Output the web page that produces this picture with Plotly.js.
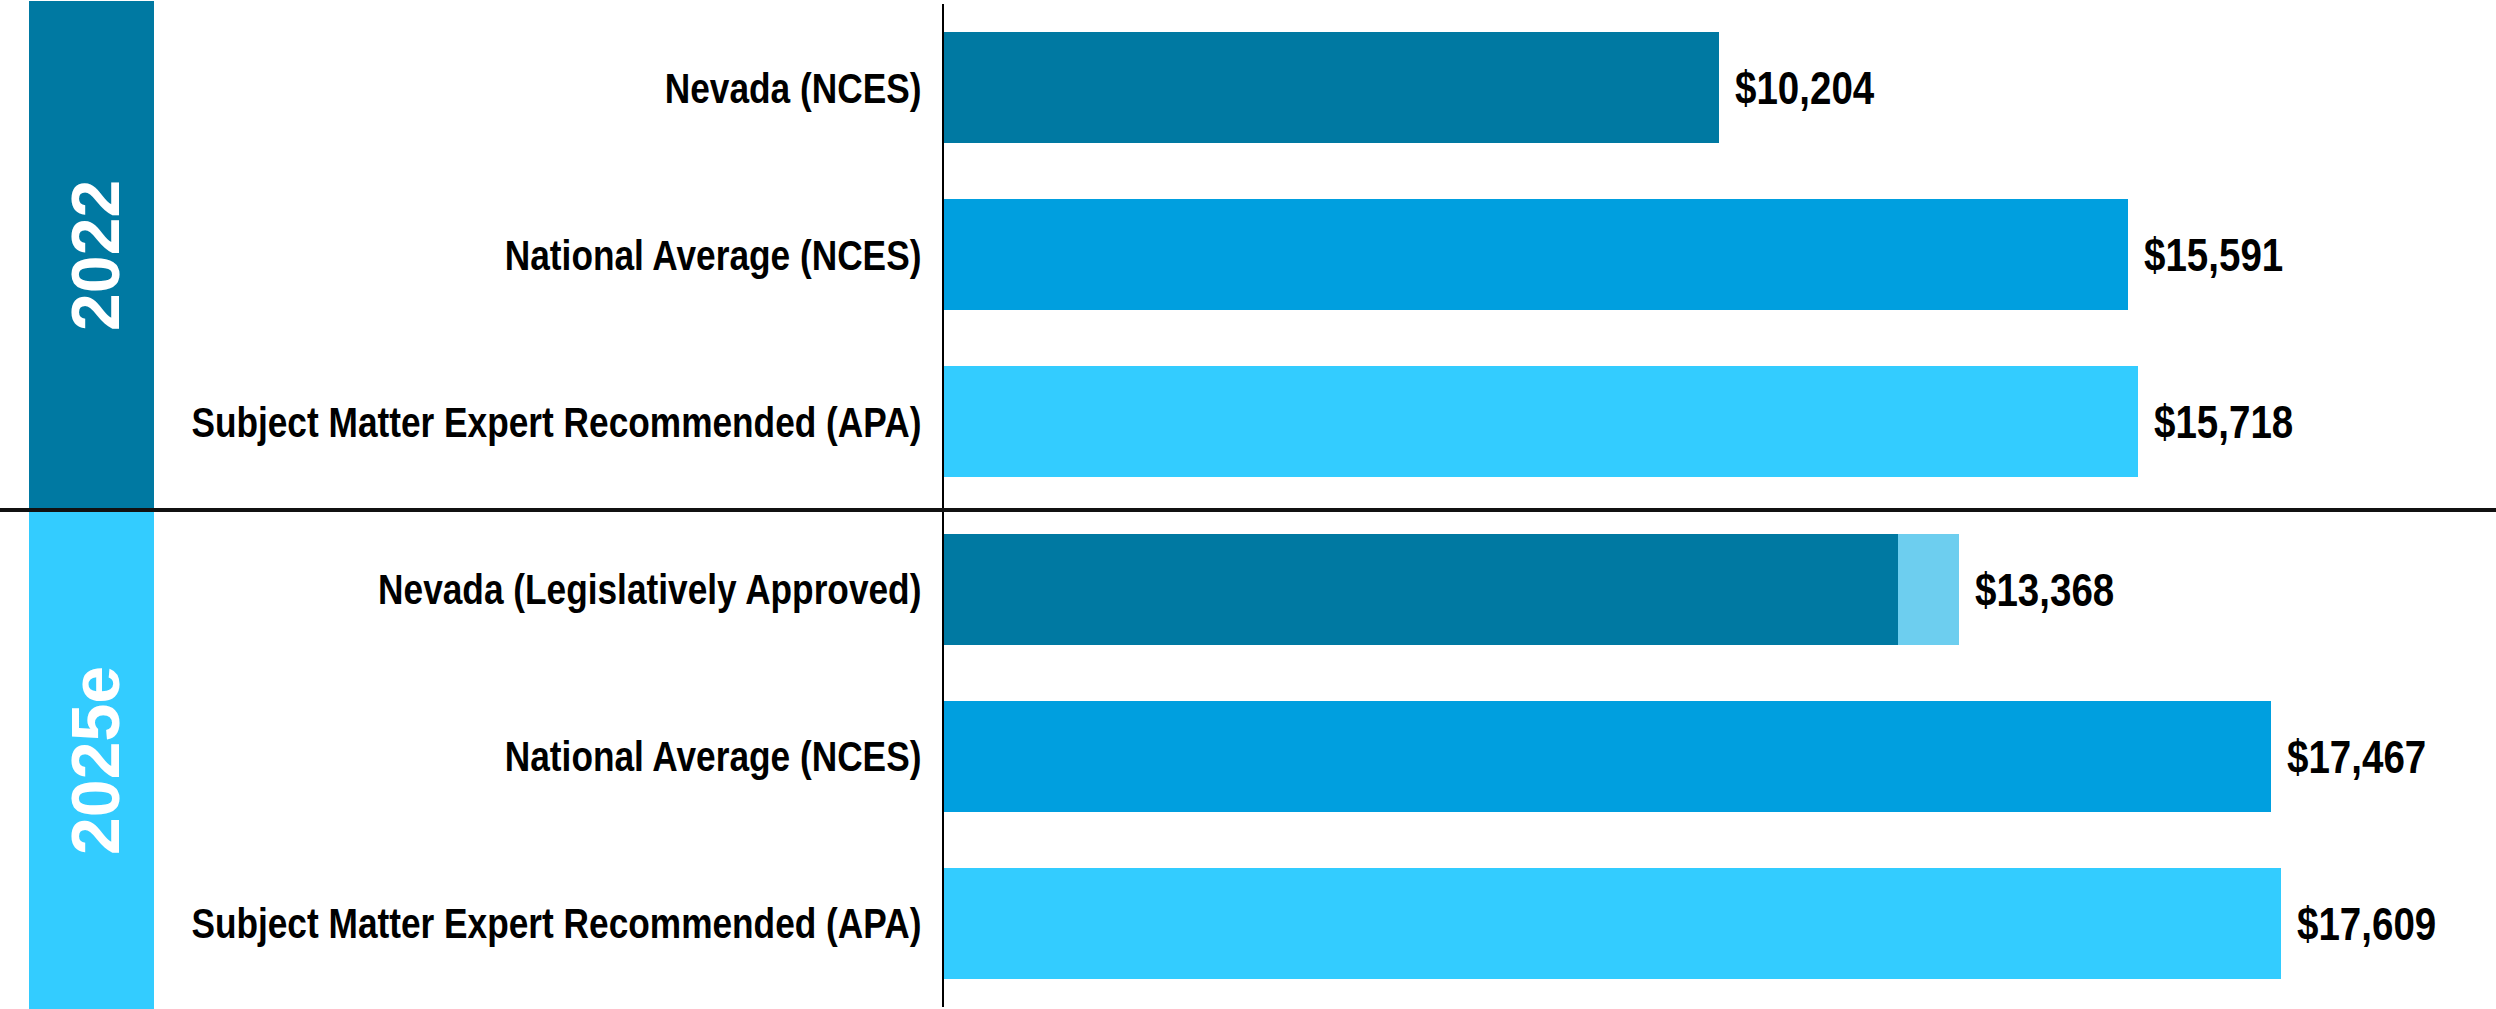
<!DOCTYPE html>
<html>
<head>
<meta charset="utf-8">
<script src="https://cdn.plot.ly/plotly-3.0.1.min.js"></script>
<style>
html,body{margin:0;padding:0;background:#fff;}
#chart{width:2496px;height:1009px;}
</style>
</head>
<body>
<div id="chart"></div>
<script>
// ---- data ----
const years = ['2022', '2025e'];
const categories = [
  'Nevada (NCES)',
  'National Average (NCES)',
  'Subject Matter Expert Recommended (APA)',
  'Nevada (Legislatively Approved)',
  'National Average (NCES)',
  'Subject Matter Expert Recommended (APA)'
];
const totals = [10204, 15591, 15718, 13368, 17467, 17609];
const baseValues = [10204, 15591, 15718, 12565, 17467, 17609];
const barColors = ['#0079A2', '#009FDF', '#33CCFF', '#0079A2', '#009FDF', '#33CCFF'];
const yearColors = ['#0079A2', '#33CCFF'];

// ---- layout helpers ----
const W = 2496, H = 1009;
const M = {l: 944, r: 0, t: 4, b: 2};
const pw = W - M.l - M.r, ph = H - M.t - M.b;
const px = v => (v - M.l) / pw;
const py = v => 1 - (v - M.t) / ph;

const rowIdx = categories.map((_, i) => i);
const extra = totals.map((t, i) => t - baseValues[i]);

const sans = '"Liberation Sans", Arial, sans-serif';
const NARROW = 0.82; // Arial Narrow is 82% the width of Arial

const traces = [
  {
    type: 'bar', orientation: 'h',
    y: rowIdx, x: baseValues,
    marker: {color: barColors, line: {width: 0}},
    hoverinfo: 'skip'
  },
  {
    type: 'bar', orientation: 'h',
    y: rowIdx, x: extra,
    marker: {color: '#6DCEEF', line: {width: 0}},
    hoverinfo: 'skip'
  }
];

const annotations = totals.map((t, i) => ({
  x: t, y: i, xref: 'x', yref: 'y',
  text: '$' + t.toLocaleString('en-US'),
  showarrow: false, xanchor: 'left', yanchor: 'middle', xshift: 14,
  font: {family: sans, size: 47, color: '#000', weight: 'bold'}
}));

const bandTop = [1, 511];
const bandBot = [509, 1009];
years.forEach((yr, k) => {
  annotations.push({
    x: px(95), y: py((bandTop[k] + bandBot[k]) / 2),
    xref: 'paper', yref: 'paper',
    text: yr, showarrow: false, textangle: -90,
    xanchor: 'center', yanchor: 'middle',
    font: {family: sans, size: 68, color: '#fff', weight: 'bold'}
  });
});

const shapes = [];
years.forEach((yr, k) => {
  shapes.push({
    type: 'rect', xref: 'paper', yref: 'paper', layer: 'below',
    x0: px(29), x1: px(154), y0: py(bandTop[k]), y1: py(bandBot[k]),
    fillcolor: yearColors[k], line: {width: 0}
  });
});
shapes.push({
  type: 'line', xref: 'paper', yref: 'paper',
  x0: px(0), x1: px(W), y0: py(510), y1: py(510),
  line: {color: '#111', width: 4}
});

const layout = {
  width: W, height: H,
  margin: M,
  paper_bgcolor: '#fff', plot_bgcolor: '#fff',
  barmode: 'stack', bargap: 0.336,
  showlegend: false,
  xaxis: {range: [0, 20434], visible: false, fixedrange: true},
  yaxis: {
    range: [5.5, -0.5], tickvals: rowIdx, ticktext: categories,
    showline: true, linecolor: '#000', linewidth: 2,
    showgrid: false, zeroline: false, ticks: '',
    ticklabelstandoff: 12,
    tickfont: {family: sans, size: 43, color: '#000', weight: 'bold'},
    fixedrange: true
  },
  annotations: annotations,
  shapes: shapes
};

// condense text horizontally (narrow face) around an anchor edge
function squeeze(nodes, s, side) {
  nodes.forEach(t => {
    const b = t.getBBox();
    const ax = side === 'end' ? b.x + b.width : b.x;
    const prev = t.getAttribute('transform') || '';
    t.setAttribute('transform', prev + ' translate(' + ax + ',0) scale(' + s + ',1) translate(' + (-ax) + ',0)');
  });
}

Plotly.newPlot('chart', traces, layout, {displayModeBar: false, staticPlot: true}).then(gd => {
  squeeze(Array.from(gd.querySelectorAll('.ytick text')), NARROW, 'end');
  const valueTexts = Array.from(gd.querySelectorAll('.annotation-text'))
    .filter(t => years.indexOf(t.textContent) < 0);
  squeeze(valueTexts, NARROW, 'start');
});
</script>
</body>
</html>
